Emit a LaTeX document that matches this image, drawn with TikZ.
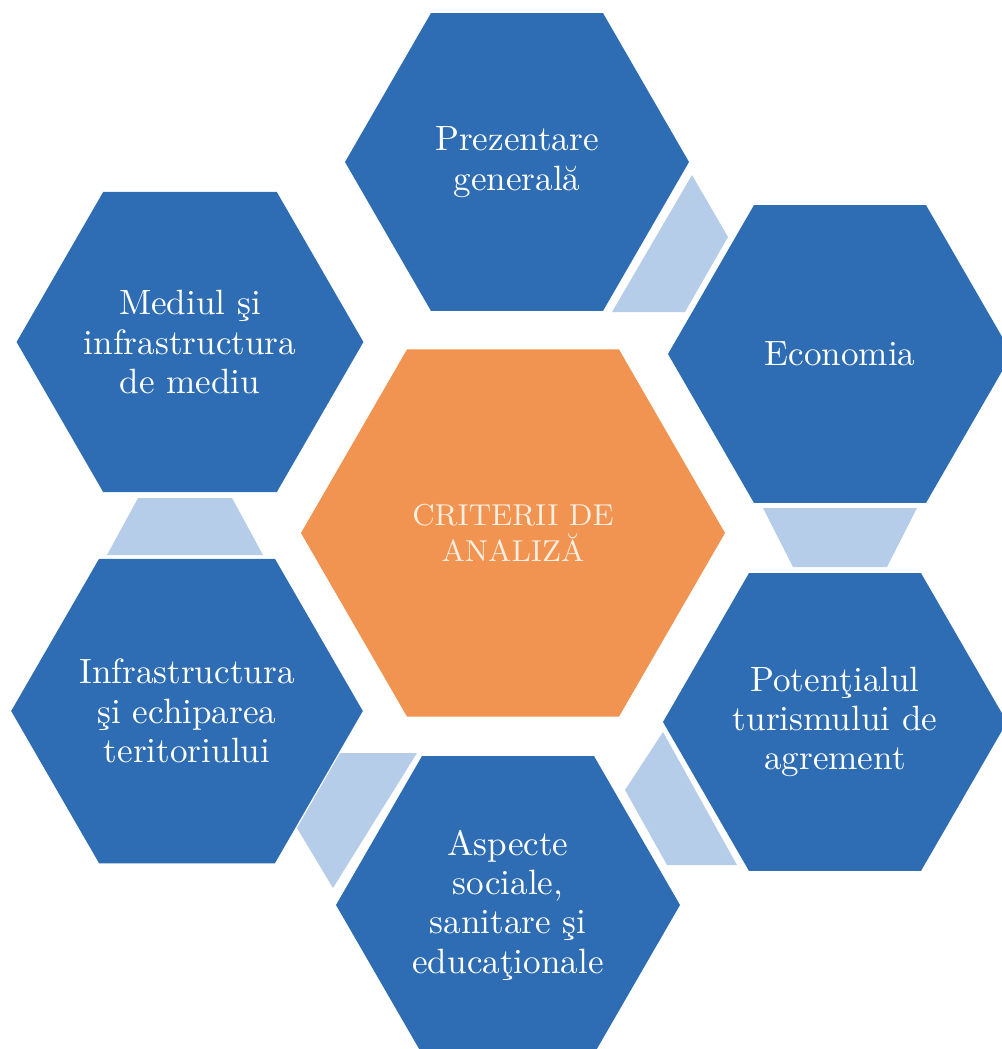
\documentclass[tikz,border=0pt]{standalone}
\usetikzlibrary{shapes.geometric}

\definecolor{hexblue}{RGB}{46,108,180}
\definecolor{hexlight}{RGB}{182,205,233}
\definecolor{hexorange}{RGB}{241,148,82}
\definecolor{crittext}{RGB}{252,238,224}

\tikzset{
  hexa/.style={regular polygon, regular polygon sides=6, minimum size=34.4mm, inner sep=0pt,
    fill=hexblue, text=white, align=center, font=\fontsize{10}{11.2}\selectfont},
  link/.style={fill=hexlight}
}

\begin{document}
\begin{tikzpicture}[x=0.1mm,y=-0.1mm]
              \useasboundingbox (0,0) rectangle (1002,1049);
              \clip (0,0) rectangle (1002,1049);

              \node[hexa, fill=hexorange, minimum size=42.4mm, text=crittext,
                font=\fontsize{8.6}{10.3}\selectfont] (CR) at (513,533) {CRITERII DE\\ANALIZĂ};

              \node[hexa] (PG) at (517,162) {Prezentare\\generală};
              \node[hexa] (EC) at (840,354) {Economia};
              \node[hexa] (PT) at (835,722) {Potenţialul\\turismului de\\agrement};
              \node[hexa] (AS) at (508,905) {Aspecte\\sociale,\\sanitare şi\\educaţionale};
              \node[hexa] (IT) at (187,711) {Infrastructura\\şi echiparea\\teritoriului};
              \node[hexa] (MD) at (190,342) {Mediul şi\\infrastructura\\de mediu};

                \fill[link] (692,175) -- (728,237) -- (685,312) -- (612,312) -- cycle;
                \fill[link] (763,508) -- (917,508) -- (887,567) -- (793,567) -- cycle;
                \fill[link] (663,732) -- (737,865) -- (667,865) -- (625,790) -- cycle;
                \fill[link] (340,753) -- (417,753) -- (333,888) -- (297,828) -- cycle;
                \fill[link] (138,498) -- (232,498) -- (263,555) -- (107,555) -- cycle;
            \end{tikzpicture}
\end{document}
